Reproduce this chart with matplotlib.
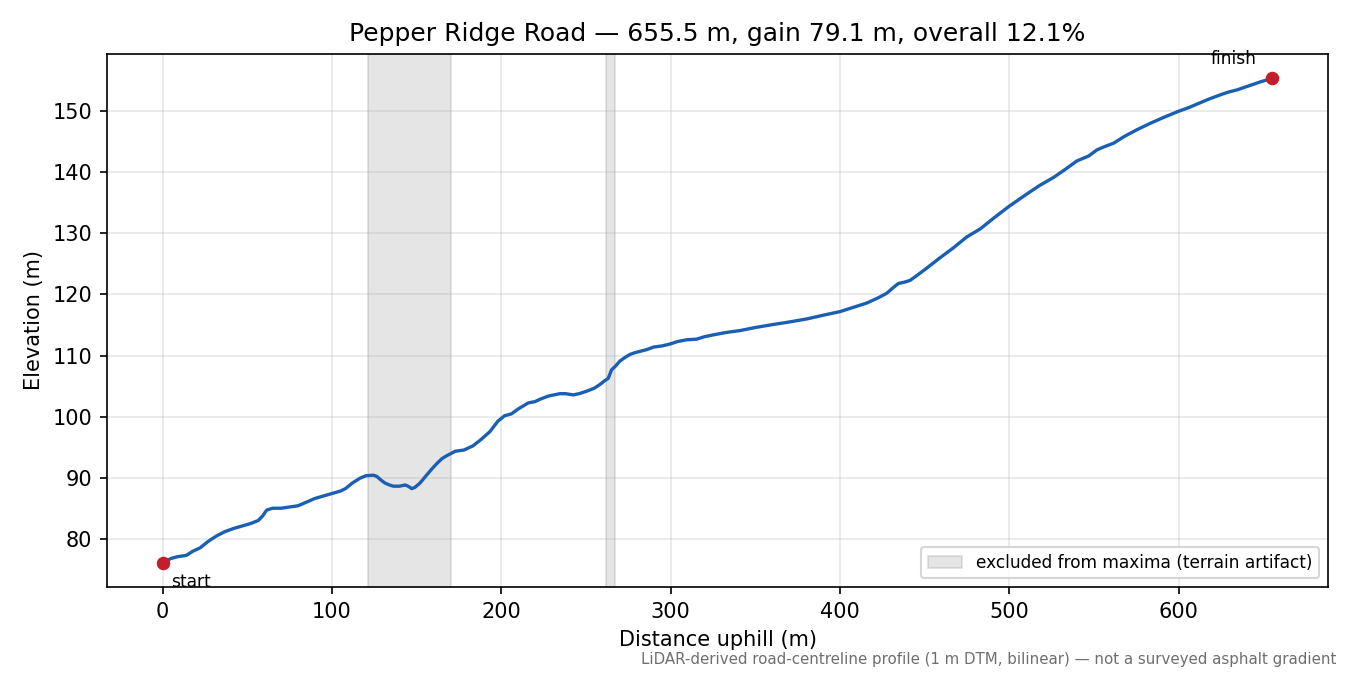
import matplotlib
matplotlib.use("Agg")
import matplotlib.pyplot as plt
from matplotlib.patches import Patch

distance_m = [0, 5, 9, 14, 18, 22, 27, 32, 37, 42, 47, 52, 56.5, 59, 61.5, 65, 70, 75, 80, 85,
              90, 95, 100, 105, 108, 112, 116.6, 120, 124.5, 126.5, 129, 131.4, 134, 136.3, 140,
              143.2, 145, 147.2, 149, 152, 155, 159, 162, 165, 168, 170, 172.8, 178, 183.4, 188,
              193.3, 198, 202, 206, 210, 213, 216, 219.9, 223, 227.7, 231, 234.6, 238, 242.5, 246,
              250.4, 255, 258.3, 261, 263.2, 265.2, 267.5, 270, 273, 276, 279, 281.9, 286, 289.8,
              295, 299.6, 304, 309.5, 315.4, 320, 325.2, 333, 341, 350, 360.7, 370, 380.4, 390,
              400.1, 408, 415.9, 423, 427.7, 431, 434.6, 438, 441.5, 446, 451.3, 459.2, 467, 475,
              482.9, 491, 500, 510.4, 518, 526.2, 533, 540, 546.9, 551.8, 556, 561.7, 568, 575.5,
              583, 591.2, 600, 606, 612.9, 618, 624.8, 629, 634.6, 641, 648.3, 652, 655.5]
elevation_m = [76.2, 76.9, 77.2, 77.4, 78.1, 78.6, 79.7, 80.6, 81.3, 81.8, 82.2, 82.6, 83.1, 83.8,
               84.8, 85.1, 85.1, 85.3, 85.5, 86.1, 86.7, 87.1, 87.5, 87.9, 88.3, 89.2, 90.0, 90.4,
               90.5, 90.3, 89.7, 89.2, 88.9, 88.7, 88.7, 88.9, 88.7, 88.3, 88.5, 89.2, 90.2, 91.5,
               92.4, 93.2, 93.7, 94.0, 94.4, 94.6, 95.3, 96.3, 97.6, 99.3, 100.2, 100.5, 101.3,
               101.8, 102.3, 102.5, 102.9, 103.4, 103.6, 103.8, 103.8, 103.6, 103.8, 104.2, 104.7,
               105.3, 105.9, 106.3, 107.7, 108.3, 109.1, 109.7, 110.2, 110.5, 110.7, 111.0, 111.4,
               111.6, 111.9, 112.3, 112.6, 112.7, 113.1, 113.4, 113.8, 114.1, 114.6, 115.1, 115.5,
               116.0, 116.6, 117.2, 117.9, 118.6, 119.5, 120.2, 121.0, 121.8, 122.0, 122.3, 123.2,
               124.3, 126.0, 127.6, 129.4, 130.7, 132.5, 134.4, 136.4, 137.8, 139.1, 140.4, 141.8,
               142.6, 143.6, 144.1, 144.7, 145.8, 146.9, 147.9, 148.9, 149.9, 150.5, 151.3, 151.9,
               152.6, 153.0, 153.4, 154.0, 154.7, 155.0, 155.3]
excluded_ranges = [(121.2, 170.4), (261.8, 267.0)]

title = "Pepper Ridge Road \u2014 655.5 m, gain 79.1 m, overall 12.1%"
footnote = "LiDAR-derived road-centreline profile (1 m DTM, bilinear) \u2014 not a surveyed asphalt gradient"

fig = plt.figure(figsize=(9, 4.5), dpi=150)
ax = fig.add_axes([0.0793, 0.1304, 0.9044, 0.7896])

for a, b in excluded_ranges:
    ax.axvspan(a, b, color="gray", alpha=0.2, zorder=1)

ax.plot(distance_m, elevation_m, color="#1a5fb4", lw=1.6, zorder=3)
ax.scatter([distance_m[0], distance_m[-1]], [elevation_m[0], elevation_m[-1]],
           color="#c41e2a", s=30, zorder=4)
ax.annotate("start", (distance_m[0], elevation_m[0]), xytext=(4, -9),
            textcoords="offset points", ha="left", va="center", fontsize=8.2)
ax.annotate("finish", (distance_m[-1], elevation_m[-1]), xytext=(-7.5, 9),
            textcoords="offset points", ha="right", va="center", fontsize=8.2)

ax.grid(True, alpha=0.3)
ax.set_xlabel("Distance uphill (m)", fontsize=10)
ax.set_ylabel("Elevation (m)", fontsize=10)
ax.set_title(title, fontsize=12)

handles = [Patch(color="gray", alpha=0.2, label="excluded from maxima (terrain artifact)")]
ax.legend(handles=handles, loc="lower right", fontsize=8.2)

fig.text(0.99, 0.012, footnote, ha="right", va="bottom", fontsize=7.2, color="#6e6e6e")

fig.savefig("out.png", dpi=150)
